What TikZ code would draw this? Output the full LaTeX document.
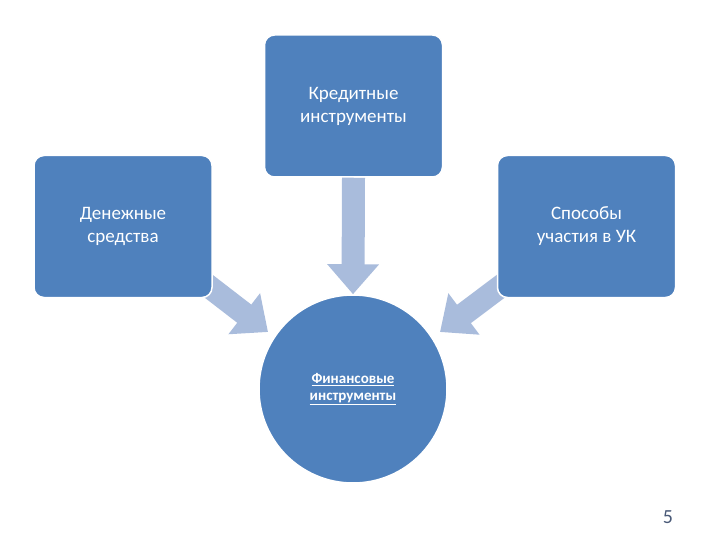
\documentclass[tikz,border=0pt]{standalone}
\usepackage{fontspec}
\setmainfont{Carlito}
\usetikzlibrary{arrows.meta}
\definecolor{boxblue}{HTML}{4F81BD}
\definecolor{arrblue}{HTML}{A9BCDC}
\definecolor{numcol}{HTML}{4A5A78}
\begin{document}
\begin{tikzpicture}[x=1pt,y=-1pt,
  box/.style={rectangle,rounded corners=10pt,fill=boxblue,draw=white,line width=1.5pt,minimum width=178pt,minimum height=142pt,text=white,font=\fontsize{19}{23}\selectfont,align=center},
  blockarrow/.style={arrblue,line width=23pt,-{Triangle[width=50pt,length=30pt]}}]
\useasboundingbox (0,0) rectangle (720,540);
\coordinate (ls) at (185,268);
\coordinate (rs) at (525,268);
\node[circle,fill=boxblue,draw=white,line width=1.5pt,minimum size=188pt,text=white,font=\bfseries\fontsize{15}{19}\selectfont,align=center] (c) at (353,389) {\underline{Финансовые}\\[-2pt]\underline{инструменты}};
\draw[blockarrow] (ls) -- (268,332);
\draw[blockarrow] (rs) -- (440,332);
\node[box] (t) at (353.5,106) {Кредитные\\инструменты};
\node[box] (l) at (123,226.5) {Денежные\\средства};
\node[box] (r) at (586.5,226.5) {Способы\\участия в УК};
\draw[blockarrow] (t.south) -- (c.north);
\node[text=numcol,font=\fontsize{20}{24}\selectfont] (n) at (668,517) {5};
\end{tikzpicture}
\end{document}
